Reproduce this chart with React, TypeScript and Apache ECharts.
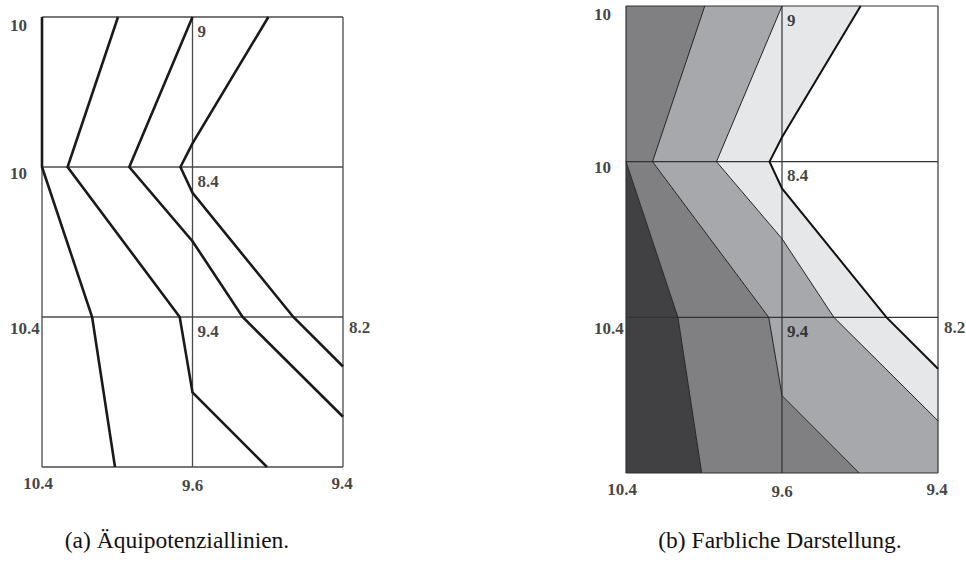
import React, { useEffect, useRef } from "react";
import * as echarts from "echarts";

// grid node columns/rows (in cell units)
const gridCols = [0, 1, 2];
const gridRows = [0, 1, 2, 3];

// equipotential lines: [column, row]
const line1 = [[0, 0], [0, 1], [0.333, 2], [0.485, 3]];
const line2 = [[0.505, 0], [0.17, 1], [0.915, 2], [1, 2.503], [1.495, 3]];
const line3 = [[1, 0], [0.58, 1], [1, 1.495], [1.333, 2], [2, 2.665]];
const line4 = [[1.504, 0], [1, 0.843], [0.92, 1], [1, 1.172], [1.67, 2], [2, 2.33]];

// potential values at grid nodes: [column, row, label]
const nodeValues: [number, number, string][] = [
  [0, 0, "10"], [1, 0, "9"],
  [0, 1, "10"], [1, 1, "8.4"],
  [0, 2, "10.4"], [1, 2, "9.4"], [2, 2, "8.2"],
  [0, 3, "10.4"], [1, 3, "9.6"], [2, 3, "9.4"],
];

const captions = ["(a) Äquipotenziallinien.", "(b) Farbliche Darstellung."];
const regionColors = ["#414143", "#808083", "#a7a8ab", "#e6e7e8"];

const rev = (a: number[][]) => a.slice().reverse();
const regions = [
  [[0, 1], ...line1.slice(1), [0, 3]],
  [...line1, ...rev(line2)],
  [...line2, [2, 3], ...rev(line3)],
  [...line3, ...rev(line4)],
];

function labelStyle(c: number, r: number) {
  if (r === 3) {
    const dx = c === 0 ? -4 : c === 1 ? 0 : -1;
    return { align: "center", offset: [dx, c === 1 ? 18 : 16] };
  }
  if (c === 0) return { align: "left", offset: [-32, r === 2 ? 11 : r === 0 ? 8 : 6] };
  if (c === 1) return { align: "left", offset: [5, 14] };
  return { align: "left", offset: [6, 10] };
}

function gridSeries(idx: number, color: string, width: number) {
  const items: number[][] = [];
  gridCols.forEach((c) => items.push([0, c]));
  gridRows.forEach((r) => items.push([1, r]));
  return {
    type: "custom",
    xAxisIndex: idx,
    yAxisIndex: idx,
    z: 5,
    silent: true,
    data: items,
    renderItem: (params: any, api: any) => {
      const kind = api.value(0);
      const v = api.value(1);
      let p1, p2;
      if (kind === 0) {
        p1 = api.coord([v, gridRows[0]]);
        p2 = api.coord([v, gridRows[gridRows.length - 1]]);
      } else {
        p1 = api.coord([gridCols[0], v]);
        p2 = api.coord([gridCols[gridCols.length - 1], v]);
      }
      return {
        type: "line",
        shape: { x1: p1[0], y1: p1[1], x2: p2[0], y2: p2[1] },
        style: { stroke: color, lineWidth: width },
      };
    },
  };
}

function labelSeries(idx: number) {
  return {
    type: "scatter",
    xAxisIndex: idx,
    yAxisIndex: idx,
    symbolSize: 1,
    itemStyle: { color: "rgba(0,0,0,0)" },
    silent: true,
    z: 10,
    data: nodeValues.map(([c, r, t]) => {
      const s = labelStyle(c, r);
      return {
        value: [c, r],
        label: {
          show: true,
          position: "inside",
          formatter: t,
          align: s.align,
          verticalAlign: "middle",
          offset: s.offset,
          color: "#111111",
          fontFamily: "Liberation Serif",
          fontWeight: "bold",
          fontSize: 17,
        },
      };
    }),
  };
}

function lineSeries(idx: number, data: number[][], width: number, color: string, z: number) {
  return {
    type: "line",
    xAxisIndex: idx,
    yAxisIndex: idx,
    data,
    showSymbol: false,
    symbol: "none",
    silent: true,
    z,
    lineStyle: { color, width, join: "miter" },
  };
}

export default function App() {
  const ref = useRef<HTMLDivElement>(null);
  useEffect(() => {
    if (!ref.current) return;
    const chart = echarts.init(ref.current, undefined, { renderer: "svg" });
    const axX = (i: number) => ({ type: "value", gridIndex: i, min: 0, max: 2, show: false });
    const axY = (i: number) => ({ type: "value", gridIndex: i, min: 0, max: 3, inverse: true, show: false });
    const captionStyle = {
      font: "23.5px 'Liberation Serif'",
      fill: "#111",
      textAlign: "center",
      textVerticalAlign: "middle",
    };
    chart.setOption({
      animation: false,
      backgroundColor: "#ffffff",
      grid: [
        { left: 42, top: 17, width: 301, height: 450 },
        { left: 626, top: 6, width: 312, height: 467 },
      ],
      xAxis: [axX(0), axX(1)],
      yAxis: [axY(0), axY(1)],
      series: [
        gridSeries(0, "#4a4a4a", 1.3),
        ...[line1, line2, line3, line4].map((l) => lineSeries(0, l, 2.6, "#1a1a1a", 8)),
        labelSeries(0),
        {
          type: "custom",
          xAxisIndex: 1,
          yAxisIndex: 1,
          z: 2,
          silent: true,
          data: regions.map((_, i) => [i, 0]),
          renderItem: (params: any, api: any) => {
            const i = params.dataIndex;
            return {
              type: "polygon",
              shape: { points: regions[i].map((p) => api.coord(p)) },
              style: { fill: regionColors[i], stroke: "none" },
            };
          },
        },
        gridSeries(1, "#333335", 1.2),
        lineSeries(1, line1.slice(1), 1, "#222222", 8),
        lineSeries(1, line2, 1, "#222222", 8),
        lineSeries(1, line3, 1, "#222222", 8),
        lineSeries(1, line4, 2, "#111111", 8),
        labelSeries(1),
      ],
      graphic: [
        { type: "text", x: 177, y: 540, style: { text: captions[0], ...captionStyle } },
        { type: "text", x: 780, y: 540, style: { text: captions[1], ...captionStyle } },
      ],
    });
    return () => chart.dispose();
  }, []);
  return (
    <div
      ref={ref}
      style={{ position: "fixed", left: 0, top: 0, width: 966, height: 567, background: "#fff" }}
    />
  );
}
